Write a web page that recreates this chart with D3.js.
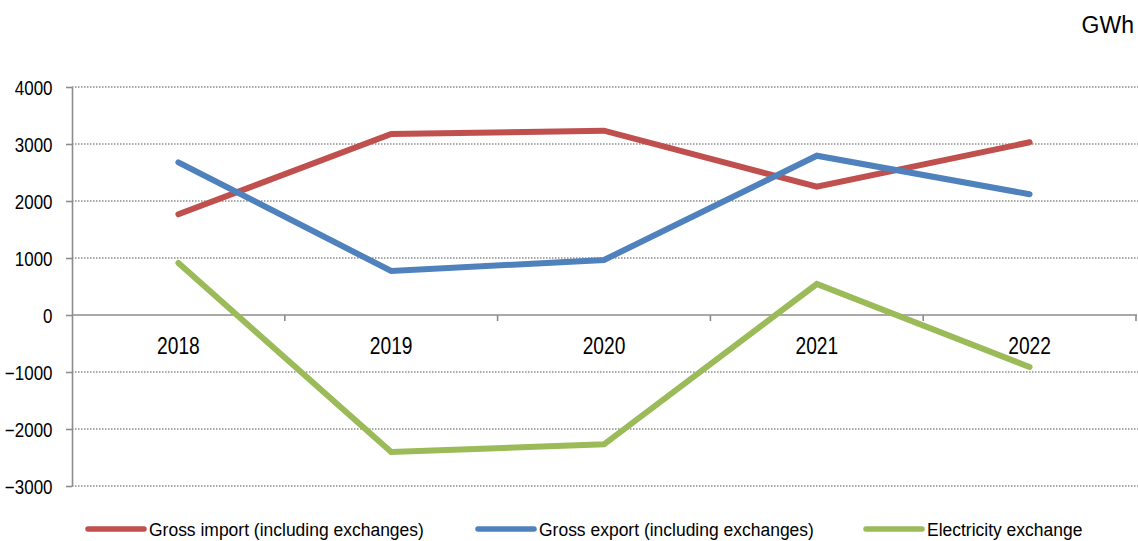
<!DOCTYPE html>
<html>
<head>
<meta charset="utf-8">
<script src="https://cdn.jsdelivr.net/npm/d3@7"></script>
<style>
  html, body { margin: 0; padding: 0; background: #fff; }
  svg { display: block; font-family: "Liberation Sans", Arial, sans-serif; }
</style>
</head>
<body>
<svg id="chart" width="1138" height="541"></svg>
<script>
// Electricity trade, GWh
const years = ["2018", "2019", "2020", "2021", "2022"];
const grossImport = [1767, 3175, 3233, 2251, 3030];
const grossExport = [2679, 772, 965, 2795, 2118];
const exchange = [912, -2403, -2268, 544, -912];
const yTicks = [-3000, -2000, -1000, 0, 1000, 2000, 3000, 4000];
const seriesNames = [
  "Gross import (including exchanges)",
  "Gross export (including exchanges)",
  "Electricity exchange"
];
const seriesColors = ["#C0504D", "#4F81BD", "#9BBB59"];
const unitLabel = "GWh";

const series = [grossImport, grossExport, exchange];

const svg = d3.select("#chart");
const plot = { left: 72, right: 1136, top: 87, bottom: 486 };

const x = d3.scaleBand().domain(years).range([plot.left, plot.right]).paddingInner(0).paddingOuter(0);
const y = d3.scaleLinear().domain([-3000, 4000]).range([plot.bottom, plot.top]);
const cx = d => x(d) + x.bandwidth() / 2;

// dotted horizontal gridlines
svg.append("g").selectAll("line")
  .data(yTicks.filter(t => t !== 0))
  .join("line")
  .attr("x1", plot.left).attr("x2", 1138)
  .attr("y1", d => y(d)).attr("y2", d => y(d))
  .attr("stroke", "#8c8c8c")
  .attr("stroke-width", 1.5)
  .attr("stroke-dasharray", "1.5,1.5");

// y axis
const yAxis = svg.append("g")
  .attr("transform", `translate(${plot.left},0)`)
  .call(d3.axisLeft(y).tickValues(yTicks).tickSize(6).tickSizeOuter(0).tickFormat(d3.format("d")));
yAxis.select(".domain").attr("stroke", "#8c8c8c").attr("stroke-width", 1.6);
yAxis.selectAll(".tick line").attr("stroke", "#8c8c8c").attr("stroke-width", 1.6);
yAxis.selectAll(".tick text").remove();
yAxis.selectAll(".tick").append("text")
  .attr("transform", "translate(-19.5,7) scale(0.87,1)")
  .attr("text-anchor", "end")
  .attr("fill", "#000")
  .style("font-size", "19.5px")
  .text(d => d3.format("d")(d));

// x axis on the zero line, ticks at category boundaries
const boundaries = years.slice(1).map(d => x(d)).concat([plot.right]);
const xAxis = svg.append("g").attr("transform", `translate(0,${y(0)})`);
xAxis.append("line")
  .attr("x1", plot.left).attr("x2", plot.right + 1)
  .attr("stroke", "#8c8c8c").attr("stroke-width", 1.6);
xAxis.selectAll("line.tk")
  .data(boundaries)
  .join("line").attr("class", "tk")
  .attr("x1", d => d).attr("x2", d => d)
  .attr("y1", 0).attr("y2", 6)
  .attr("stroke", "#8c8c8c").attr("stroke-width", 1.6);
xAxis.selectAll("text")
  .data(years)
  .join("text")
  .attr("transform", d => `translate(${cx(d)},39) scale(0.8,1)`)
  .attr("text-anchor", "middle")
  .style("font-size", "24px")
  .attr("fill", "#000")
  .text(d => d);

// series lines
const line = d3.line().x((d, i) => cx(years[i])).y(d => y(d));
svg.append("g").selectAll("path")
  .data(series)
  .join("path")
  .attr("d", d => line(d))
  .attr("fill", "none")
  .attr("stroke", (d, i) => seriesColors[i])
  .attr("stroke-width", 6)
  .attr("stroke-linecap", "round")
  .attr("stroke-linejoin", "miter");

// unit label
svg.append("text")
  .attr("x", 1134).attr("y", 33)
  .attr("text-anchor", "end")
  .style("font-size", "23px")
  .attr("fill", "#000")
  .text(unitLabel);

// legend
const legendX = [88, 478, 866];
const legend = svg.append("g").selectAll("g")
  .data(seriesNames)
  .join("g")
  .attr("transform", (d, i) => `translate(${legendX[i]},529)`);
legend.append("line")
  .attr("x1", 0).attr("x2", 56)
  .attr("stroke", (d, i) => seriesColors[i])
  .attr("stroke-width", 5.5)
  .attr("stroke-linecap", "round");
legend.append("text")
  .attr("transform", "translate(61,7) scale(0.92,1)")
  .style("font-size", "19px")
  .attr("fill", "#000")
  .text(d => d);
</script>
</body>
</html>
